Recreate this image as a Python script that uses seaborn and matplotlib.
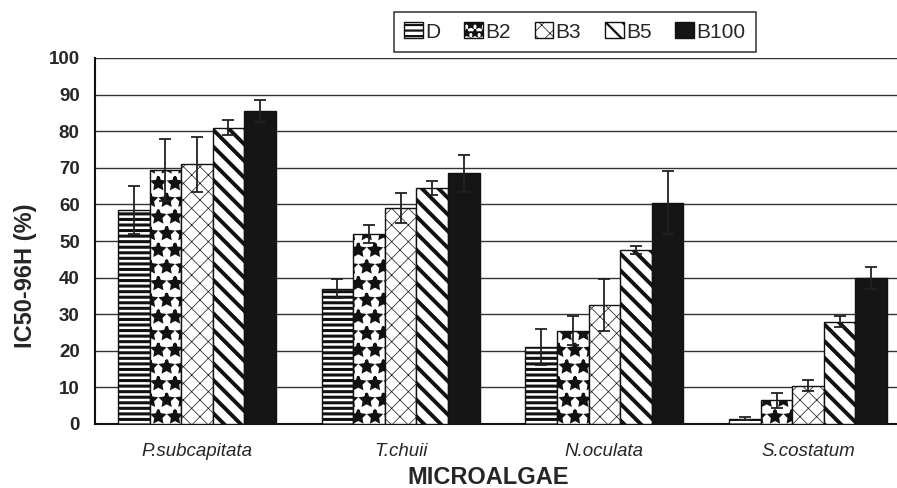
import numpy as np
import pandas as pd
import seaborn as sns
import matplotlib.pyplot as plt

algae = ['P.subcapitata', 'T.chuii', 'N.oculata', 'S.costatum']
fuels = ['D', 'B2', 'B3', 'B5', 'B100']

# IC50-96H means and errors per fuel, in order of algae
ic50 = {
    'D':    [58.5, 37.0, 21.0, 1.5],
    'B2':   [69.5, 52.0, 25.5, 6.5],
    'B3':   [71.0, 59.0, 32.5, 10.5],
    'B5':   [81.0, 64.5, 47.5, 28.0],
    'B100': [85.5, 68.5, 60.5, 40.0],
}
err = {
    'D':    [6.5, 2.5, 5.0, 0.5],
    'B2':   [8.5, 2.5, 4.0, 2.0],
    'B3':   [7.5, 4.0, 7.0, 1.5],
    'B5':   [2.0, 2.0, 1.0, 1.5],
    'B100': [3.0, 5.0, 8.5, 3.0],
}

rows = []
for f in fuels:
    for a, v, e in zip(algae, ic50[f], err[f]):
        rows.append({'alga': a, 'fuel': f, 'ic50': v, 'err': e})
df = pd.DataFrame(rows)

sns.set_style('white')
plt.rcParams['font.family'] = ['Liberation Sans', 'DejaVu Sans']

hatches = {'D': '---', 'B2': '*', 'B3': 'xx', 'B5': '\\\\', 'B100': ''}
hatch_lw = {'D': 2.2, 'B2': 2.0, 'B3': 0.5, 'B5': 2.8, 'B100': 1.0}
fills = {'D': 'white', 'B2': 'white', 'B3': 'white', 'B5': 'white', 'B100': '#151515'}

fig = plt.figure(figsize=(8.97, 4.88), dpi=100)
ax = fig.add_axes([95 / 897, 1 - 424 / 488, (910 - 95) / 897, (424 - 58) / 488])

sns.barplot(data=df, x='alga', y='ic50', hue='fuel', order=algae, hue_order=fuels,
            palette=fills, edgecolor='#111111', linewidth=1.0, width=0.775,
            errorbar=None, ax=ax, zorder=3)

for cont, f in zip(ax.containers, fuels):
    for bar in cont:
        bar.set_hatch(hatches[f])
        try:
            bar.set_hatch_linewidth(hatch_lw[f])
        except AttributeError:
            pass
    xs = [b.get_x() + b.get_width() / 2 for b in cont]
    ax.errorbar(xs, ic50[f], yerr=err[f], fmt='none', ecolor='#222222',
                elinewidth=1.3, capsize=4, capthick=1.3, zorder=4)

ax.set_ylim(0, 100)
ax.set_yticks(range(0, 101, 10))
ax.yaxis.grid(True, color='#333333', linewidth=1.0, zorder=0)
ax.set_axisbelow(True)
ax.set_xlim(-0.5, 3.5)
ax.set_xticks(np.arange(len(algae)))
ax.set_xticklabels(algae, fontstyle='italic', fontsize=13.5)
ax.set_xticks(np.arange(len(algae) + 1) - 0.5, minor=True)
ax.tick_params(axis='x', which='major', length=0, pad=14)
ax.tick_params(axis='x', which='minor', length=6, width=1.2, color='#111111', direction='out')
ax.tick_params(axis='y', length=6, width=1.2, color='#111111', direction='out', labelsize=13.5, pad=5)
for lab in ax.get_yticklabels():
    lab.set_fontweight('bold')
for s in ['top', 'right']:
    ax.spines[s].set_visible(False)
for s in ['left', 'bottom']:
    ax.spines[s].set_color('#111111')
    ax.spines[s].set_linewidth(1.5)

ax.set_xlabel('MICROALGAE', fontsize=17, fontweight='bold')
ax.xaxis.set_label_coords((488 - 95) / (910 - 95), -(477 - 424) / 366)
ax.xaxis.label.set_va('center')
ax.set_ylabel('IC50-96H (%)', fontsize=17, fontweight='bold')
ax.yaxis.set_label_coords(-(95 - 26) / 815, (424 - 276) / 366)
ax.yaxis.label.set_va('center')

handles, labels = ax.get_legend_handles_labels()
leg = ax.legend(handles, labels, loc='upper left', ncol=5, frameon=True, fancybox=False,
                bbox_to_anchor=((394 - 95) / 815, (424 - 12) / 366), borderaxespad=0,
                fontsize=15, handlelength=0.9, handleheight=0.8, handletextpad=0.1,
                columnspacing=1.15, borderpad=0.5, edgecolor='#111111')
leg.get_frame().set_linewidth(1.2)
for h, f in zip(leg.legend_handles, fuels):
    h.set_hatch(hatches[f] if f != 'B2' else '**')
    h.set_edgecolor('#111111')
    try:
        h.set_hatch_linewidth(min(hatch_lw[f], 1.6))
    except AttributeError:
        pass

fig.savefig('out.png', dpi=100)
